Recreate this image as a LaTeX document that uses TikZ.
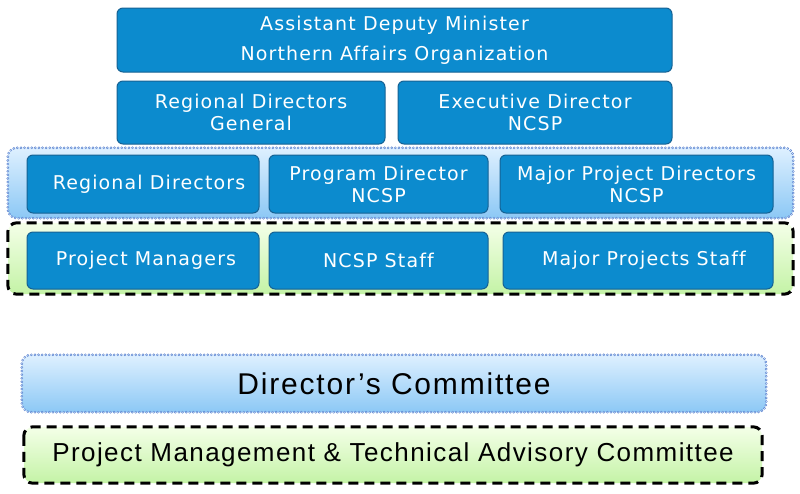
\documentclass[tikz,border=0pt]{standalone}
\usepackage{fontspec}
\setmainfont{DejaVu Sans}[LetterSpace=6, Ligatures=NoCommon]
\newfontfamily\arialfont{Liberation Sans}[LetterSpace=6, Ligatures=NoCommon]
\newfontfamily\arialfontb{Liberation Sans}[LetterSpace=5.5, Ligatures=NoCommon]
\definecolor{boxblue}{RGB}{12,139,206}
\definecolor{boxedge}{RGB}{22,98,148}
\definecolor{bandtop}{RGB}{222,240,255}
\definecolor{bandbot}{RGB}{140,200,245}
\definecolor{greentop}{RGB}{244,255,232}
\definecolor{greenbot}{RGB}{196,243,166}
\definecolor{dotblue}{RGB}{95,135,210}
\definecolor{dotin}{RGB}{220,232,250}
\tikzset{
  orgbox/.style={fill=boxblue, draw=boxedge, line width=1pt, rounded corners=6pt,
    text=white, align=center, inner sep=0pt,
    font=\fontsize{19}{22}\selectfont},
  blueband/.style={top color=bandtop, bottom color=bandbot, rounded corners=9pt, inner sep=0pt},
  greenband/.style={top color=greentop, bottom color=greenbot, rounded corners=9pt, inner sep=0pt},
  dotring/.style={draw=dotblue, line width=2.8pt, line cap=round, dash pattern=on 0pt off 3.6pt, rounded corners=9pt},
  dotringin/.style={draw=dotin, line width=1.1pt, line cap=round, dash pattern=on 0pt off 3.6pt, rounded corners=9pt},
  dashborder/.style={draw=black, line width=3pt, dash pattern=on 10pt off 6pt, rounded corners=9pt},
}
\begin{document}
\begin{tikzpicture}[x=1pt,y=-1pt]
\useasboundingbox[fill=white] (0,0) rectangle (800,493);
% bands
\node[blueband, minimum width=785pt, minimum height=70pt] (band1) at (400.5,183) {};
\draw[dotring] (band1.north west) rectangle (band1.south east);
\draw[dotringin] (band1.north west) rectangle (band1.south east);
\node[greenband, minimum width=785pt, minimum height=71pt] (band2) at (400.5,258.5) {};
\draw[dashborder] (band2.north west) rectangle (band2.south east);
% top
\node[orgbox, minimum width=555pt, minimum height=64pt, font=\fontsize{19}{30}\selectfont] (adm) at (394.5,40) {Assistant Deputy Minister\\Northern Affairs Organization};
\node[orgbox, minimum width=268pt, minimum height=63pt] (rdg) at (251,112.5) {Regional Directors\\General};
\node[orgbox, minimum width=274pt, minimum height=63pt] (ed) at (535,112.5) {Executive Director\\NCSP};
% row 3
\node[orgbox, minimum width=232pt, minimum height=58pt] (rd) at (143,184) {\hspace{12pt}Regional Directors};
\node[orgbox, minimum width=219pt, minimum height=58pt] (pd) at (378.5,184) {Program Director\\NCSP};
\node[orgbox, minimum width=273pt, minimum height=58pt] (mpd) at (636.5,184) {Major Project Directors\\NCSP};
% row 4
\node[orgbox, minimum width=232pt, minimum height=57pt] (pm) at (143,260.5) {\hspace{6pt}Project Managers};
\node[orgbox, minimum width=219pt, minimum height=57pt] (ns) at (378.5,260.5) {NCSP Staff};
\node[orgbox, minimum width=270pt, minimum height=57pt] (mps) at (638,260.5) {\hspace{12pt}Major Projects Staff};
% bottom committees
\node[blueband, minimum width=744pt, minimum height=57pt, font=\arialfont\fontsize{30}{32}\selectfont] (dc) at (394,383.5) {Director’s Committee};
\draw[dotring] (dc.north west) rectangle (dc.south east);
\draw[dotringin] (dc.north west) rectangle (dc.south east);
\node[greenband, minimum width=738pt, minimum height=56pt, font=\arialfontb\fontsize{26}{28}\selectfont] (pmtac) at (393,455) {Project Management \& Technical Advisory Committee};
\draw[dashborder] (pmtac.north west) rectangle (pmtac.south east);
\end{tikzpicture}
\end{document}
